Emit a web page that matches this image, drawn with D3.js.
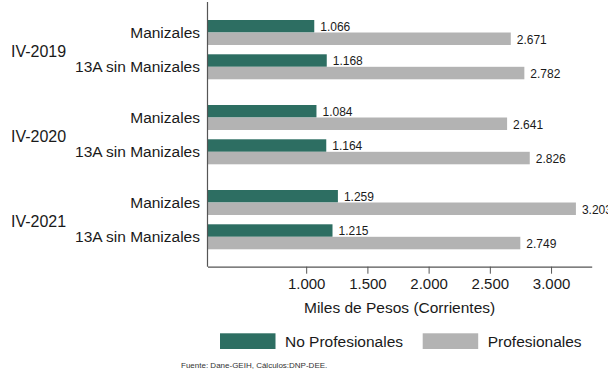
<!DOCTYPE html>
<html>
<head>
<meta charset="utf-8">
<script src="https://cdn.jsdelivr.net/npm/d3@7"></script>
<style>
  html, body { margin: 0; padding: 0; background: #fff; }
  svg { display: block; font-family: "Liberation Sans", Arial, sans-serif; }
</style>
</head>
<body>
<svg id="chart" width="608" height="372"></svg>
<script>
// ---- data ----
const periods = ["IV-2019", "IV-2020", "IV-2021"];
const regions = ["Manizales", "13A sin Manizales"];
const seriesNames = ["No Profesionales", "Profesionales"];
// values per period, per region: [No Profesionales, Profesionales]
const noProfesionales = [1066, 1168, 1084, 1164, 1259, 1215];
const profesionales   = [2671, 2782, 2641, 2826, 3203, 2749];
const tickValues = [1000, 1500, 2000, 2500, 3000];
const axisTitle = "Miles de Pesos (Corrientes)";
const sourceNote = "Fuente: Dane-GEIH, Cálculos:DNP-DEE.";

const colors = ["#2d6e62", "#b3b3b3"];

const locale = d3.formatLocale({decimal: ",", thousands: ".", grouping: [3], currency: ["", ""]});
const fmt = locale.format(",.0f");

const rows = [];
periods.forEach((p, i) => {
  regions.forEach((r, j) => {
    const k = i * regions.length + j;
    rows.push({period: p, region: r, values: [noProfesionales[k], profesionales[k]]});
  });
});

const svg = d3.select("#chart");

const x = d3.scaleLinear().domain([194, 3332]).range([207.5, 591.7]);
const yGroup = d3.scaleBand().domain(periods).range([7.15, 262.15]).paddingInner(0).paddingOuter(0);
const yRegion = d3.scaleBand().domain(regions).range([12.85, 72.15]).paddingInner(0.271).paddingOuter(0);
const ySeries = d3.scaleBand().domain(seriesNames).range([0, yRegion.bandwidth()]);

const axisY = 266.7;
const textColor = "#1a1a1a";

// bars
const g = svg.append("g");
const rowG = g.selectAll("g.row").data(rows).join("g")
  .attr("class", "row")
  .attr("transform", d => `translate(0,${yGroup(d.period) + yRegion(d.region)})`);

rowG.selectAll("rect").data(d => d.values.map((v, i) => ({v, s: seriesNames[i], i}))).join("rect")
  .attr("x", x.range()[0])
  .attr("y", d => ySeries(d.s))
  .attr("width", d => x(d.v) - x.range()[0])
  .attr("height", ySeries.bandwidth())
  .attr("fill", d => colors[d.i]);

rowG.selectAll("text.val").data(d => d.values.map((v, i) => ({v, s: seriesNames[i], i}))).join("text")
  .attr("class", "val")
  .attr("x", d => x(d.v) + 6)
  .attr("y", d => ySeries(d.s) + ySeries.bandwidth() - 1.3)
  .attr("font-size", 12)
  .attr("fill", textColor)
  .text(d => fmt(d.v));

// region labels
rowG.append("text")
  .attr("x", 200)
  .attr("y", yRegion.bandwidth() / 2)
  .attr("dy", "0.35em")
  .attr("text-anchor", "end")
  .attr("font-size", 15.5)
  .attr("fill", textColor)
  .text(d => d.region);

// period labels
svg.selectAll("text.period").data(periods).join("text")
  .attr("class", "period")
  .attr("x", 11)
  .attr("y", d => yGroup(d) + yGroup.bandwidth() / 2 + 1.5)
  .attr("dy", "0.35em")
  .attr("font-size", 16)
  .attr("fill", textColor)
  .text(d => d);

// left axis line
svg.append("line")
  .attr("x1", x.range()[0]).attr("x2", x.range()[0])
  .attr("y1", 2).attr("y2", axisY)
  .attr("stroke", "#555").attr("stroke-width", 1.2);

// bottom axis
const xAxis = d3.axisBottom(x).tickValues(tickValues).tickFormat(fmt).tickSize(7).tickSizeOuter(0).tickPadding(5);
const ax = svg.append("g").attr("transform", `translate(0,${axisY})`).call(xAxis);
ax.select(".domain").attr("stroke", "#555").attr("stroke-width", 1.2);
ax.selectAll(".tick line").attr("stroke", "#555");
ax.selectAll(".tick text").attr("font-size", 15).attr("fill", textColor)
  .attr("font-family", '"Liberation Sans", Arial, sans-serif');

// axis title
svg.append("text")
  .attr("x", (x.range()[0] + x.range()[1]) / 2)
  .attr("y", 313)
  .attr("text-anchor", "middle")
  .attr("font-size", 15.5)
  .attr("fill", textColor)
  .text(axisTitle);

// legend
const legendX = [220, 422.7];
const lg = svg.selectAll("g.legend").data(seriesNames).join("g")
  .attr("class", "legend")
  .attr("transform", (d, i) => `translate(${legendX[i]},333.3)`);
lg.append("rect").attr("width", 55.5).attr("height", 15.7).attr("fill", (d, i) => colors[i]);
lg.append("text").attr("x", 65).attr("y", 13.4).attr("font-size", 15.5).attr("fill", textColor).text(d => d);

// source
svg.append("text")
  .attr("x", 181)
  .attr("y", 368.3)
  .attr("font-size", 8)
  .attr("fill", "#333")
  .text(sourceNote);
</script>
</body>
</html>
